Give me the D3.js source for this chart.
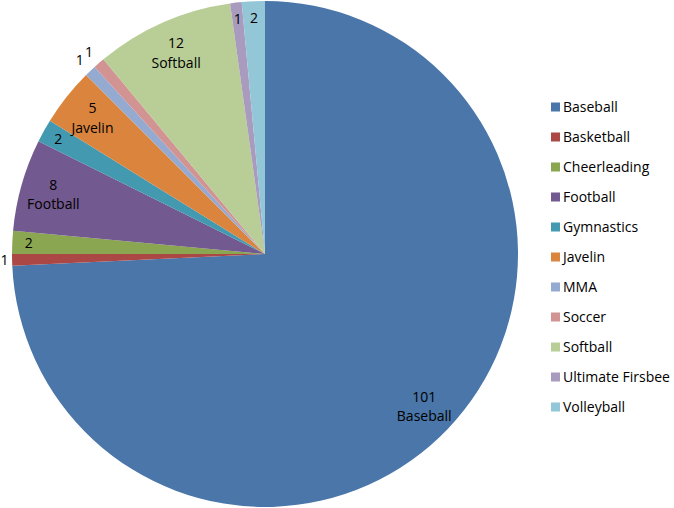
<!DOCTYPE html>
<html>
<head>
<meta charset="utf-8">
<script src="https://cdn.jsdelivr.net/npm/d3@7"></script>
<style>
  body { margin: 0; background: #fff; }
  text { font-family: "Open Sans", Lato, sans-serif; fill: #000; }
</style>
</head>
<body>
<div id="chart"></div>
<script>
// slice data, clockwise from 12 o'clock
const sports = ["Baseball", "Basketball", "Cheerleading", "Football", "Gymnastics", "Javelin",
                "MMA", "Soccer", "Softball", "Ultimate Firsbee", "Volleyball"];
const counts = [101, 1, 2, 8, 2, 5, 1, 1, 12, 1, 2];
const sliceColors = ["#4a76a9", "#ab4744", "#8aa650", "#72598f", "#4299b0", "#db843e",
                     "#94aad0", "#d19493", "#b9cd97", "#a99bbe", "#93c6d7"];

// small slices whose label sits outside the pie
const outsideLabels = ["Basketball", "MMA", "Soccer"];

const width = 674, height = 508;
const cx = 265, cy = 254, radius = 253;
const fontSize = "14px";

const svg = d3.select("#chart")
  .append("svg")
    .attr("width", width)
    .attr("height", height);

const rows = sports.map((s, i) => ({sport: s, count: counts[i], color: sliceColors[i]}));

const pie = d3.pie()
  .sort(null)
  .value(d => d.count);

const arc = d3.arc()
  .innerRadius(0)
  .outerRadius(radius);

const g = svg.append("g")
  .attr("transform", `translate(${cx}, ${cy})`);

const arcs = pie(rows);

g.selectAll("path")
  .data(arcs)
  .join("path")
    .attr("d", arc)
    .attr("fill", d => d.data.color);

// labels: big slices get value + name, small ones only value
const labelPos = d => {
  const mid = (d.startAngle + d.endAngle) / 2;
  let r;
  if (outsideLabels.includes(d.data.sport)) r = radius * (d.data.sport === "Basketball" ? 1.03 : 1.06);
  else if (d.data.count >= 5) r = radius * 0.87;
  else r = radius * 0.935;
  return [Math.sin(mid) * r, -Math.cos(mid) * r];
};

const labels = g.selectAll("g.lbl")
  .data(arcs)
  .join("g")
    .attr("class", "lbl")
    .attr("transform", d => `translate(${labelPos(d)})`);

labels.each(function(d) {
  const sel = d3.select(this);
  const twoLine = d.data.count >= 5;
  sel.append("text")
    .attr("text-anchor", "middle")
    .attr("dy", twoLine ? "-0.3em" : "0.35em")
    .style("font-size", fontSize)
    .text(d.data.count);
  if (twoLine) {
    sel.append("text")
      .attr("text-anchor", "middle")
      .attr("dy", "1.1em")
      .style("font-size", fontSize)
      .text(d.data.sport);
  }
});

// legend
const legend = svg.append("g")
  .attr("transform", "translate(551, 107)");

const item = legend.selectAll("g")
  .data(rows)
  .join("g")
    .attr("transform", (d, i) => `translate(0, ${i * 30})`);

item.append("rect")
  .attr("x", 0)
  .attr("y", -4.5)
  .attr("width", 9)
  .attr("height", 9)
  .attr("fill", d => d.color);

item.append("text")
  .attr("x", 12)
  .attr("dy", "0.35em")
  .style("font-size", fontSize)
  .text(d => d.sport);
</script>
</body>
</html>
